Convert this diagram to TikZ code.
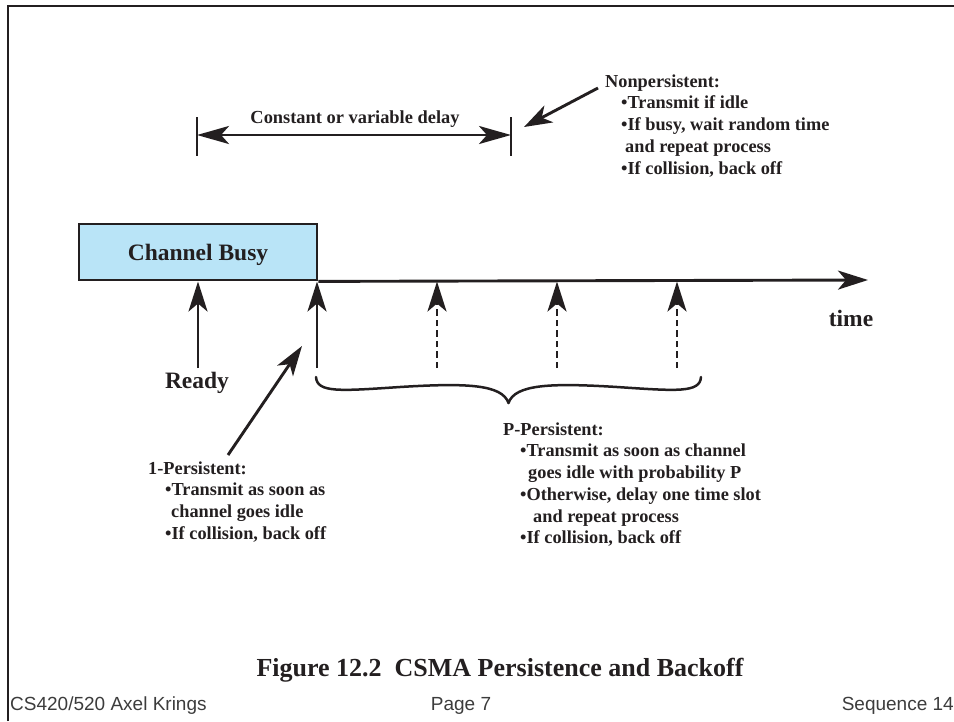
\documentclass[tikz,border=0pt]{standalone}
\usepackage{fontspec}
\setmainfont{Liberation Serif}
\newfontfamily\footfont{Liberation Sans}
\usetikzlibrary{arrows.meta}
\definecolor{ink}{RGB}{35,31,32}
\definecolor{busyblue}{RGB}{185,228,247}
\definecolor{footgray}{RGB}{60,60,60}

\begin{document}
\begin{tikzpicture}[x=1pt,y=-1pt,
  bighead/.style={-{Stealth[length=30pt,width=19pt,inset=8pt]}},
  shaft/.style={line width=2.9pt, draw=ink},
  lbl/.style={font=\bfseries\fontsize{23.5}{26}\selectfont, text=ink, inner sep=0pt},
  note/.style={font=\bfseries\fontsize{18.3}{21.7}\selectfont, text=ink, align=left,
    anchor=north west, inner sep=0pt},
  foot/.style={font=\footfont\fontsize{19}{22}\selectfont, text=footgray, inner sep=0pt}
]
\useasboundingbox (0,0) rectangle (954,721);

% page frame (top and left rules)
\draw[line width=2.8pt, ink] (8,721) -- (8,6) -- (954,6);

% channel busy period
\node[lbl, draw=ink, line width=2.8pt, fill=busyblue, minimum width=238pt,
  minimum height=56pt, text height=17pt, text depth=0pt] (busy) at (198,252) {Channel Busy};

% time axis
\coordinate (axisend) at (868,280);
\draw[shaft, bighead] (busy.south east) -- (axisend);
\node[lbl, anchor=base] (time) at (851,326) {time};

% ready arrow
\coordinate (readyfoot) at (198,368);
\coordinate (readytip) at (198,281.5);
\draw[shaft, bighead] (readyfoot) -- (readytip);
\node[lbl, anchor=base] (ready) at (197,388) {Ready};

% channel goes idle, then later slots
\coordinate (idlefoot) at (317,368);
\coordinate (idletip) at (317,281.5);
\draw[shaft, bighead] (idlefoot) -- (idletip);
\foreach \k/\x in {1/437,2/557,3/677}{
  \coordinate (slotfoot\k) at (\x,368);
  \coordinate (slottip\k) at (\x,281.5);
  \draw[shaft, bighead, dash pattern=on 6.5pt off 4pt] (slotfoot\k) -- (slottip\k);
}

% brace over the slots
\coordinate (braceL) at (316,377);
\coordinate (braceM) at (508.5,403);
\coordinate (braceR) at (701,377);
\draw[line width=2.5pt, ink, line cap=round, line join=round]
  (braceL) .. controls (317,393) and (340,391) .. (400,387)
           .. controls (465,383) and (502,384) .. (braceM)
           .. controls (515,384) and (552,383) .. (617,387)
           .. controls (677,391) and (700,393) .. (braceR);

% delay interval
\coordinate (delayL) at (197,135);
\coordinate (delayR) at (511,135);
\draw[shaft] (197,117) -- (197,156);
\draw[shaft] (511,117) -- (511,156);
\draw[shaft, {Stealth[length=32pt,width=18pt,inset=8pt]}-{Stealth[length=32pt,width=18pt,inset=8pt]}]
  (delayL) -- (delayR);
\node[font=\bfseries\fontsize{18.4}{21}\selectfont, text=ink, inner sep=0pt, anchor=base]
  (delaylbl) at (355,123) {Constant or variable delay};

% nonpersistent
\node[note] (nonp) at (605,73) {\rule{0pt}{14pt}Nonpersistent:\\
  \hspace*{16pt}•Transmit if idle\\
  \hspace*{16pt}•If busy, wait random time\\
  \hspace*{20pt}and repeat process\\
  \hspace*{16pt}•If collision, back off};
\coordinate (nonpfrom) at (598,88);
\coordinate (nonpto) at (524,127);
\draw[shaft, -{Stealth[length=28pt,width=19pt,inset=8pt]}] (nonpfrom) -- (nonpto);

% 1-persistent
\node[note] (onep) at (148,460) {\rule{0pt}{14pt}1-Persistent:\\
  \hspace*{17pt}•Transmit as soon as\\
  \hspace*{23pt}channel goes idle\\
  \hspace*{17pt}•If collision, back off};
\coordinate (onepfrom) at (228,455);
\coordinate (oneto) at (302,346);
\draw[shaft, -{Stealth[length=30pt,width=19pt,inset=8pt]}] (onepfrom) -- (oneto);

% p-persistent
\node[note] (pp) at (503,421) {\rule{0pt}{14pt}P-Persistent:\\
  \hspace*{17pt}•Transmit as soon as channel\\
  \hspace*{25pt}goes idle with probability P\\
  \hspace*{17pt}•Otherwise, delay one time slot\\
  \hspace*{30pt}and repeat process\\
  \hspace*{17pt}•If collision, back off};

% caption
\node[font=\bfseries\fontsize{26}{29}\selectfont, text=ink, inner sep=0pt, anchor=base]
  (caption) at (500,676) {Figure 12.2\hspace{0.5em}CSMA Persistence and Backoff};

% footer
\node[foot, anchor=base west] (footL) at (10,710) {CS420/520 Axel Krings};
\node[foot, anchor=base] (footM) at (461,710) {Page 7};
\node[foot, anchor=base east] (footR) at (954,710) {Sequence 14};
\end{tikzpicture}
\end{document}
